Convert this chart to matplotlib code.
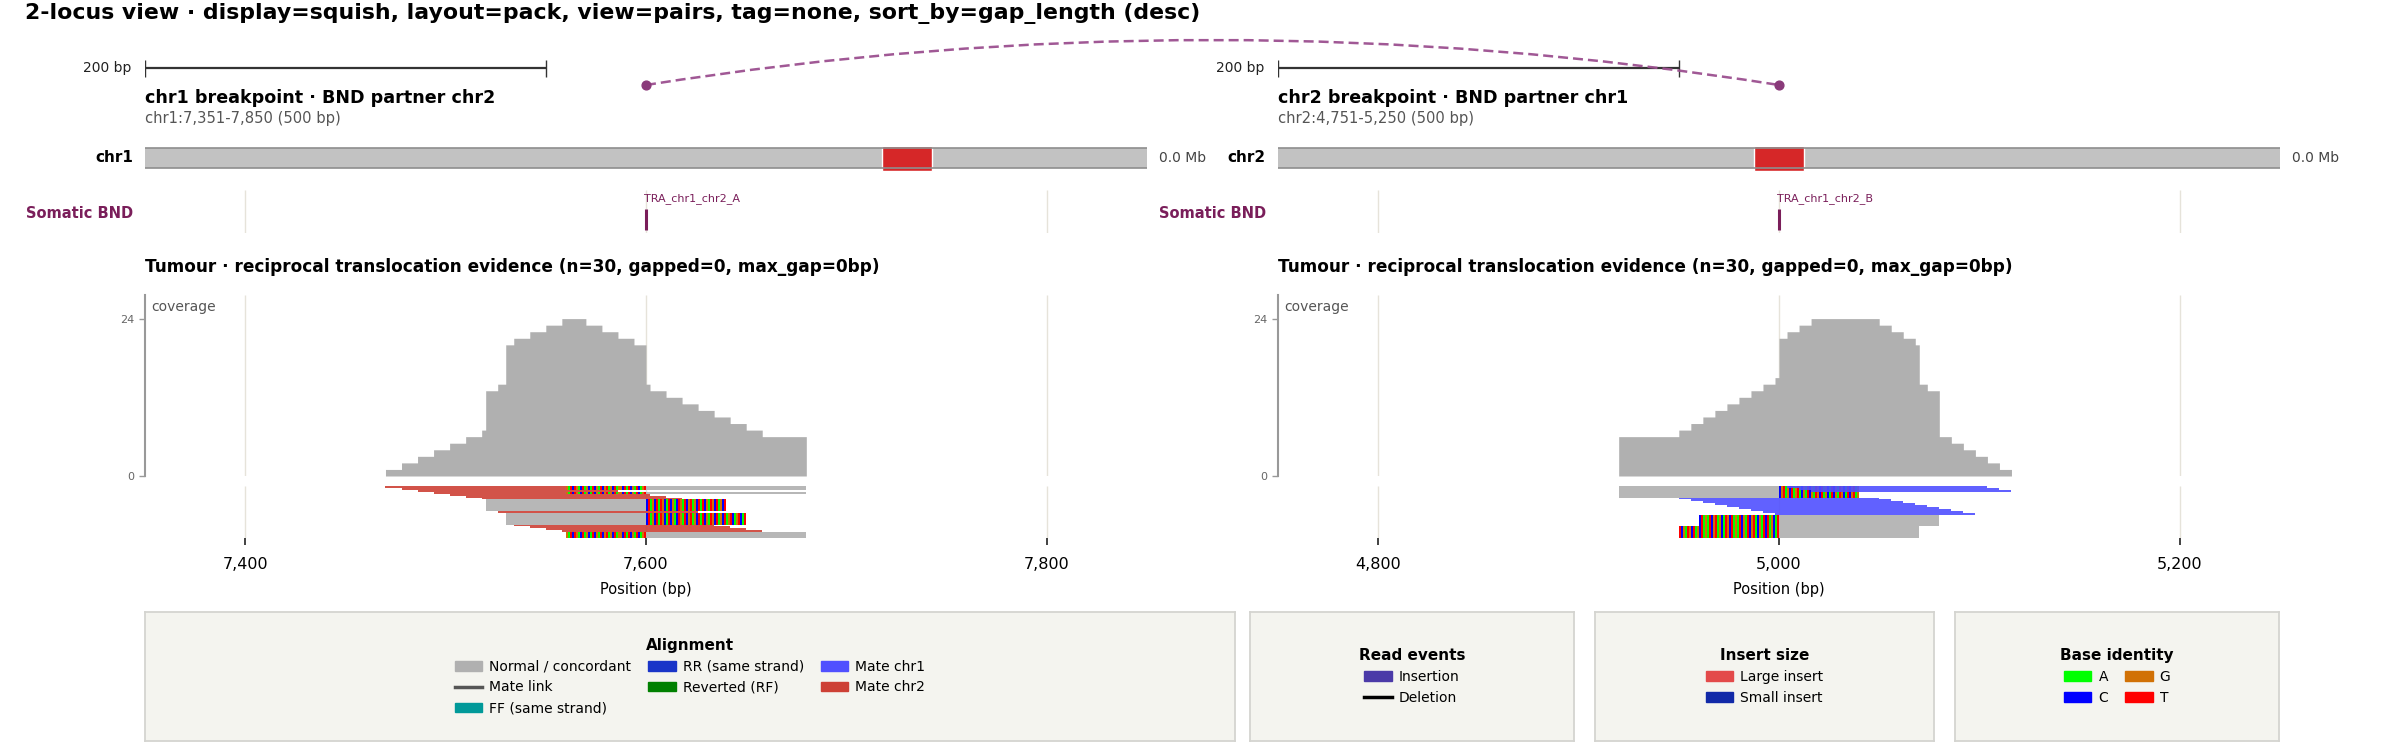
import numpy as np
import matplotlib
matplotlib.use("Agg")
import matplotlib.pyplot as plt
from matplotlib.patches import Patch, Rectangle, PathPatch
from matplotlib.lines import Line2D
from matplotlib.path import Path
from matplotlib.ticker import FuncFormatter

W, H = 2400, 747

# ---------------- data ----------------
TITLE = "2-locus view · display=squish, layout=pack, view=pairs, tag=none, sort_by=gap_length (desc)"
CHROM_LEN = 10000
SCALE_BP = 200
TRACK_LABEL = "Somatic BND"
SAMPLE = "Tumour · reciprocal translocation evidence"

# locus A (chr1)
A_chrom, A_partner, A_start, A_end, A_bp = "chr1", "chr2", 7351, 7850, 7600
A_event = "TRA_chr1_chr2_A"
A_ticks = [7400, 7600, 7800]
A_read_start = [7470, 7478, 7486, 7494, 7502, 7510, 7518, 7526, 7534, 7542, 7550, 7558,
                7520, 7520, 7520, 7520, 7520, 7520,
                7530, 7530, 7530, 7530, 7530, 7530,
                7600, 7600, 7600, 7600, 7600, 7600]
A_read_end = [7570, 7578, 7586, 7594, 7602, 7610, 7618, 7626, 7634, 7642, 7650, 7658,
              7600, 7600, 7600, 7600, 7600, 7600,
              7600, 7600, 7600, 7600, 7600, 7600,
              7680, 7680, 7680, 7680, 7680, 7680]
A_clip_start = [0, 0, 0, 0, 0, 0, 0, 0, 0, 0, 0, 0,
                7600, 7600, 7600, 7600, 7600, 7600,
                7600, 7600, 7600, 7600, 7600, 7600,
                7560, 7560, 7560, 7560, 7560, 7560]
A_clip_end = [0, 0, 0, 0, 0, 0, 0, 0, 0, 0, 0, 0,
              7640, 7640, 7640, 7640, 7640, 7640,
              7650, 7650, 7650, 7650, 7650, 7650,
              7600, 7600, 7600, 7600, 7600, 7600]
A_mate = ["chr2"] * 12 + [""] * 18
A_row = [0, 1, 2, 3, 4, 5, 6, 13, 20, 21, 22, 23,
         7, 8, 9, 10, 11, 12,
         14, 15, 16, 17, 18, 19,
         0, 1, 3, 24, 25, 26]
A_seq_start = 7560
A_seq = ("GATCTGACTA" "GCATCGATCG" "TAGCTAGGCT" "ATCGATCAGT" "CTAGCTATGC"
         "ATCGACTGAT" "CGTAGCTATC" "GATGCTAGCT" "AGTCAGTCAT")

# locus B (chr2)
B_chrom, B_partner, B_start, B_end, B_bp = "chr2", "chr1", 4751, 5250, 5000
B_event = "TRA_chr1_chr2_B"
B_ticks = [4800, 5000, 5200]
B_read_start = [4950, 4956, 4962, 4968, 4974, 4980, 4986, 4992, 4998, 5004, 5010, 5016,
                4920, 4920, 4920, 4920, 4920, 4920,
                5000, 5000, 5000, 5000, 5000, 5000,
                5000, 5000, 5000, 5000, 5000, 5000]
B_read_end = [5050, 5056, 5062, 5068, 5074, 5080, 5086, 5092, 5098, 5104, 5110, 5116,
              5000, 5000, 5000, 5000, 5000, 5000,
              5080, 5080, 5080, 5080, 5080, 5080,
              5070, 5070, 5070, 5070, 5070, 5070]
B_clip_start = [0, 0, 0, 0, 0, 0, 0, 0, 0, 0, 0, 0,
                5000, 5000, 5000, 5000, 5000, 5000,
                4960, 4960, 4960, 4960, 4960, 4960,
                4950, 4950, 4950, 4950, 4950, 4950]
B_clip_end = [0, 0, 0, 0, 0, 0, 0, 0, 0, 0, 0, 0,
              5040, 5040, 5040, 5040, 5040, 5040,
              5000, 5000, 5000, 5000, 5000, 5000,
              5000, 5000, 5000, 5000, 5000, 5000]
B_mate = ["chr1"] * 12 + [""] * 18
B_row = [6, 7, 8, 9, 10, 11, 12, 13, 14, 0, 1, 2,
         0, 1, 2, 3, 4, 5,
         15, 16, 17, 18, 19, 20,
         21, 22, 23, 24, 25, 26]
B_seq_start = 4950
B_seq = ("TCGATGCTAG" "CTAGATCGTA" "GCATGCTAGA" "TCGATCGTAC" "GATCTAGCAT"
         "CGTAGCTAGT" "ACGATCGATG" "CTAGCATCGA" "TGCATCGTAG")

# legends
ALIGN_LABELS = ["Normal / concordant", "Mate link", "FF (same strand)", "RR (same strand)",
                "Reverted (RF)", "Mate chr1", "Mate chr2"]
EVENT_LABELS = ["Insertion", "Deletion"]
INSERT_LABELS = ["Large insert", "Small insert"]
BASE_LABELS = ["A", "C", "G", "T"]

# ---------------- styles ----------------
GRAY = "#b0b0b0"
MATE_COLORS = {"chr1": "#5050ff", "chr2": "#cd4035"}
BASE_COLORS = {"A": "#00ff00", "C": "#0000ff", "G": "#d17105", "T": "#ff0000"}
GRID = "#e6e3da"
BND_COL = "#7a1e5a"
ARC_COL = "#9b4f8f"
DOT_COL = "#8a3a7a"
LEG_BG = "#f4f4ef"

plt.rcParams["font.family"] = ["DejaVu Sans"]
fig = plt.figure(figsize=(W / 100, H / 100), dpi=100)


def px_axes(x0, y0, x1, y1, **kw):
    return fig.add_axes([x0 / W, 1 - y1 / H, (x1 - x0) / W, (y1 - y0) / H], **kw)


fig.text(25 / W, 1 - 13 / H, TITLE, fontsize=15.8, fontweight="bold", ha="left", va="center")

panels = [
    dict(chrom=A_chrom, partner=A_partner, start=A_start, end=A_end, bp=A_bp, event=A_event,
         ticks=A_ticks, rs=A_read_start, re=A_read_end, cs=A_clip_start, ce=A_clip_end,
         mate=A_mate, row=A_row, seq0=A_seq_start, seq=A_seq, x0=145, x1=1147, mate_top=False),
    dict(chrom=B_chrom, partner=B_partner, start=B_start, end=B_end, bp=B_bp, event=B_event,
         ticks=B_ticks, rs=B_read_start, re=B_read_end, cs=B_clip_start, ce=B_clip_end,
         mate=B_mate, row=B_row, seq0=B_seq_start, seq=B_seq, x0=1278, x1=2280, mate_top=True),
]

fmt = FuncFormatter(lambda v, p: f"{int(v):,}")
header_axes = []

for P in panels:
    x0, x1 = P["x0"], P["x1"]
    xlim = (P["start"] - 1, P["end"])

    # header
    hd = px_axes(x0, 30, x1, 135)
    hd.set_xlim(*xlim)
    hd.set_ylim(135, 30)
    hd.axis("off")
    hd.plot([xlim[0], xlim[0] + SCALE_BP], [68, 68], color="#333333", lw=1.6, solid_capstyle="butt")
    hd.vlines([xlim[0], xlim[0] + SCALE_BP], 60, 77, color="#333333", lw=1)
    hd.annotate(f"{SCALE_BP} bp", xy=(xlim[0], 68), xytext=(-14, 0), textcoords="offset pixels",
                ha="right", va="center", fontsize=10, color="#222222")
    hd.text(xlim[0], 98, f"{P['chrom']} breakpoint · BND partner {P['partner']}",
            fontsize=12.6, fontweight="bold", ha="left", va="center")
    hd.text(xlim[0], 118, f"{P['chrom']}:{P['start']:,}-{P['end']:,} ({P['end'] - P['start'] + 1} bp)",
            fontsize=10.6, color="#555555", ha="left", va="center")
    header_axes.append(hd)

    # ideogram
    ideo = px_axes(x0, 143, x1, 173)
    ideo.set_xlim(0, CHROM_LEN)
    ideo.set_ylim(173, 143)
    ideo.axis("off")
    ideo.add_patch(Rectangle((0, 148), CHROM_LEN, 20, facecolor="#c2c2c2", edgecolor="none"))
    ideo.hlines([148, 168], 0, CHROM_LEN, color="#8e8e8e", lw=1.2)
    ideo.add_patch(Rectangle((P["start"], 146), P["end"] - P["start"], 25,
                             facecolor="#d62728", edgecolor="white", lw=1))
    ideo.annotate(P["chrom"], xy=(0, 158), xytext=(-12, 0), textcoords="offset pixels",
                  ha="right", va="center", fontsize=11, fontweight="bold")
    ideo.annotate(f"{CHROM_LEN / 1e6:.1f} Mb", xy=(CHROM_LEN, 158), xytext=(12, 0),
                  textcoords="offset pixels", ha="left", va="center", fontsize=10, color="#444444")

    # Somatic BND track
    bnd = px_axes(x0, 190, x1, 233)
    bnd.set_xlim(*xlim)
    bnd.set_ylim(233, 190)
    bnd.axis("off")
    bnd.vlines(P["ticks"], 190, 233, color=GRID, lw=1, zorder=0)
    bnd.vlines([P["bp"]], 209, 230, color=BND_COL, lw=2.2, zorder=2)
    bnd.text(P["bp"] - 1, 199, P["event"], fontsize=8, color=BND_COL, ha="left", va="center")
    bnd.annotate(TRACK_LABEL, xy=(xlim[0], 213), xytext=(-12, 0), textcoords="offset pixels",
                 ha="right", va="center", fontsize=10.5, fontweight="bold", color=BND_COL)

    # reads-derived arrays
    rs = np.array(P["rs"]); re_ = np.array(P["re"])
    cs = np.array(P["cs"]); ce = np.array(P["ce"])
    rows = np.array(P["row"]); mate = np.array(P["mate"])
    n = len(rs)

    # coverage
    pos = np.arange(xlim[0], xlim[1] + 1)
    cov = ((pos[:, None] >= rs[None, :]) & (pos[:, None] < re_[None, :])).sum(axis=1)
    cv = px_axes(x0, 295, x1, 476)
    cv.set_xlim(*xlim)
    cv.set_ylim(0, cov.max() * 1.15)
    cv.vlines(P["ticks"], 0, cov.max() * 1.15, color=GRID, lw=1, zorder=0)
    cv.fill_between(pos, cov, step="post", color=GRAY, lw=0, zorder=2)
    for s in ["top", "right", "bottom"]:
        cv.spines[s].set_visible(False)
    cv.spines["left"].set_color("#999999")
    cv.spines["left"].set_linewidth(1.5)
    cv.set_xticks([])
    cv.set_yticks([0, cov.max()])
    cv.tick_params(axis="y", labelsize=8, labelcolor="#666666", color="#999999", length=4, width=1)
    cv.text(0.006, 0.935, "coverage", transform=cv.transAxes, fontsize=10, color="#555555",
            ha="left", va="center")
    cv.set_facecolor("none")
    fig.text(x0 / W, 1 - 267 / H,
             f"{SAMPLE} (n={n}, gapped=0, max_gap=0bp)",
             fontsize=12.2, fontweight="bold", ha="left", va="center")

    # reads
    rd = px_axes(x0, 486, x1, 538)
    rd.set_xlim(*xlim)
    nrows = 27
    rd.set_ylim(nrows, 0)
    rd.vlines(P["ticks"], 0, nrows, color=GRID, lw=1, zorder=0)
    is_mate = mate != ""
    mz = 4 if P["mate_top"] else 1
    for chrom_name in np.unique(mate[is_mate]):
        sel = mate == chrom_name
        rd.barh(rows[sel], re_[sel] - rs[sel], left=rs[sel], height=1, align="edge",
                color=MATE_COLORS[chrom_name], alpha=0.9, lw=0, zorder=mz)
    sel = ~is_mate
    rd.barh(rows[sel], re_[sel] - rs[sel], left=rs[sel], height=1, align="edge",
            color=GRAY, alpha=0.9, lw=0, zorder=2)
    bpos, brow, bcol = [], [], []
    for i in np.where(ce > cs)[0]:
        for p in range(cs[i], ce[i]):
            bpos.append(p)
            brow.append(rows[i])
            bcol.append(BASE_COLORS[P["seq"][p - P["seq0"]]])
    rd.barh(brow, 1, left=bpos, height=1, align="edge", color=bcol, lw=0, zorder=3)
    for s in ["top", "right", "left", "bottom"]:
        rd.spines[s].set_visible(False)
    rd.set_yticks([])
    rd.set_xticks(P["ticks"])
    rd.xaxis.set_major_formatter(fmt)
    rd.tick_params(axis="x", labelsize=11.5, length=5, width=1.3, color="#333333", pad=9)
    rd.set_xlabel("Position (bp)", fontsize=10.5, labelpad=7)
    rd.set_facecolor("none")

# arc between the breakpoints
ov = fig.add_axes([0, 0, 1, 1], zorder=10)
ov.set_xlim(0, W)
ov.set_ylim(H, 0)
ov.axis("off")
ov.patch.set_alpha(0)
fig.canvas.draw()
pts = []
for hd, P in zip(header_axes, panels):
    disp = hd.transData.transform((P["bp"], 85))
    pts.append(ov.transData.inverted().transform(disp))
(p0x, p0y), (p2x, p2y) = pts
ctrl = ((p0x + p2x) / 2, p0y - 90)
arc = Path([(p0x, p0y), ctrl, (p2x, p2y)], [Path.MOVETO, Path.CURVE3, Path.CURVE3])
ov.add_patch(PathPatch(arc, fill=False, edgecolor=ARC_COL, lw=1.8, linestyle=(0, (4, 2)), alpha=0.95))
ov.scatter([p0x, p2x], [p0y, p2y], s=40, color=DOT_COL, zorder=5)

# legends
def legend_box(x0, x1, handles, labels, title, ncol):
    ax = px_axes(x0, 612, x1, 741)
    ax.set_facecolor(LEG_BG)
    ax.set_xticks([]); ax.set_yticks([])
    for s in ax.spines.values():
        s.set_color("#d4d4d0")
        s.set_linewidth(1.3)
    ax.legend(handles, labels, loc="center", ncol=ncol, frameon=False, title=title,
              title_fontproperties={"weight": "bold", "size": 11}, fontsize=10,
              handletextpad=0.5, columnspacing=1.2, labelspacing=0.5)

align_handles = [Patch(color=GRAY), Line2D([], [], color="#555555", lw=2.5),
                 Patch(color="#009999"), Patch(color="#1a35c8"), Patch(color="#008000"),
                 Patch(color=MATE_COLORS["chr1"]), Patch(color=MATE_COLORS["chr2"])]
legend_box(145, 1235, align_handles, ALIGN_LABELS, "Alignment", 3)
legend_box(1250, 1574, [Patch(color="#4b3aa8"), Line2D([], [], color="black", lw=2.5)],
           EVENT_LABELS, "Read events", 1)
legend_box(1595, 1934, [Patch(color="#e34a4a"), Patch(color="#1129a8")],
           INSERT_LABELS, "Insert size", 1)
legend_box(1955, 2279, [Patch(color=BASE_COLORS[b]) for b in BASE_LABELS],
           BASE_LABELS, "Base identity", 2)

fig.savefig("out.png", dpi=100)
